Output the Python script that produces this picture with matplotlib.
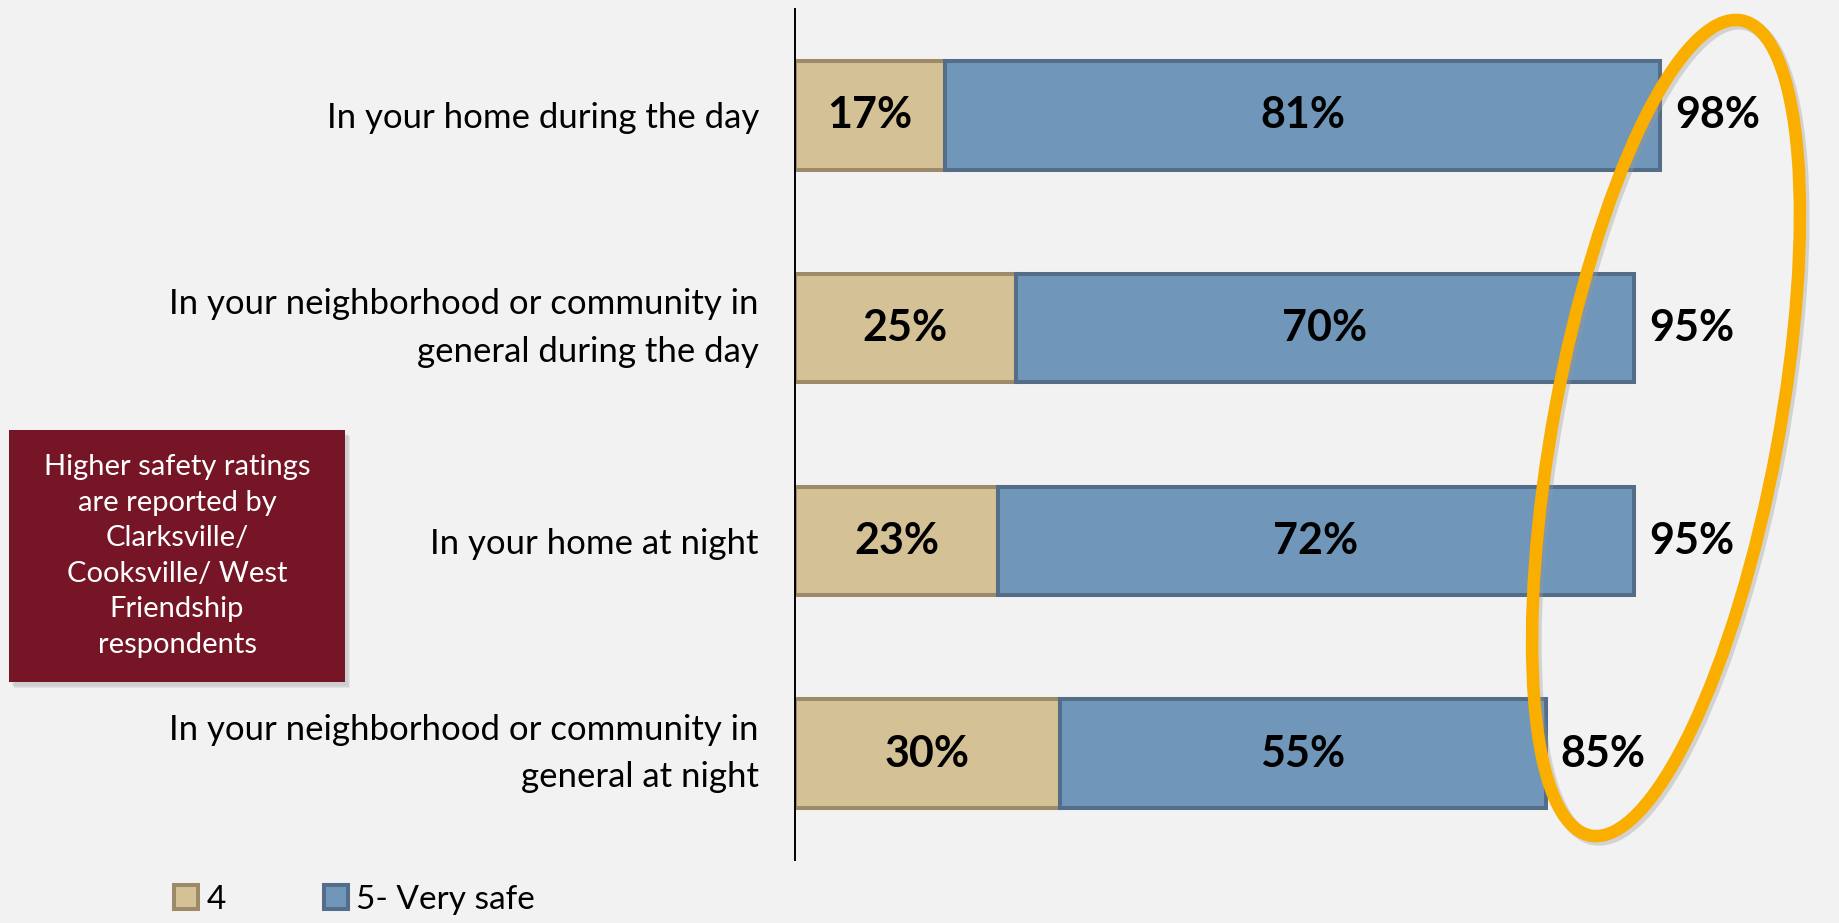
import matplotlib
matplotlib.use("Agg")
import matplotlib.pyplot as plt
import matplotlib.transforms as mtransforms
from matplotlib.patches import Ellipse, Rectangle

plt.rcParams['font.family'] = ['Lato', 'DejaVu Sans']

# ---- data ----
categories = [
    "In your home during the day",
    "In your neighborhood or community in\ngeneral during the day",
    "In your home at night",
    "In your neighborhood or community in\ngeneral at night",
]
series_names = ["4", "5- Very safe"]
values_4 = [17, 25, 23, 30]
values_5 = [81, 70, 72, 55]
totals = [98, 95, 95, 85]
callout_text = ("Higher safety ratings\nare reported by\nClarksville/\n"
                "Cooksville/ West\nFriendship\nrespondents")

# ---- style ----
BG = "#F2F2F2"
TAN, TAN_EDGE = "#D4C195", "#9C8A68"
BLUE, BLUE_EDGE = "#7097BA", "#546E8A"
ORANGE = "#F9AE00"
MAROON = "#761526"

W, H = 1839, 923
fig = plt.figure(figsize=(W / 100, H / 100), dpi=100, facecolor=BG)
ax = fig.add_axes([795 / W, (H - 860) / H, 883 / W, 851 / H])
ax.set_facecolor(BG)

y = list(range(len(categories)))
b1 = ax.barh(y, values_4, height=0.51, color=TAN, edgecolor=TAN_EDGE,
             linewidth=2.9, label=series_names[0])
b2 = ax.barh(y, values_5, left=values_4, height=0.51, color=BLUE,
             edgecolor=BLUE_EDGE, linewidth=2.9, label=series_names[1])

ax.bar_label(b1, labels=[f"{v}%" for v in values_4], label_type="center",
             fontsize=31, fontweight="bold", color="black")
ax.bar_label(b2, labels=[f"{v}%" for v in values_5], label_type="center",
             fontsize=31, fontweight="bold", color="black")
for yi, t in zip(y, totals):
    ax.annotate(f"{t}%", xy=(t, yi), xytext=(11, 0), textcoords="offset points",
                ha="left", va="center", fontsize=31, fontweight="bold", color="black")

ax.set_xlim(0, 100)
ax.set_ylim(3.5, -0.5)
ax.set_yticks(y)
ax.set_yticklabels(categories, fontsize=25, linespacing=1.6)
for lbl in ax.get_yticklabels():
    if "\n" in lbl.get_text():
        lbl.set_verticalalignment("center")
ax.tick_params(axis="y", length=0, pad=26)
ax.set_xticks([])
for s in ["top", "right", "bottom"]:
    ax.spines[s].set_visible(False)
ax.spines["left"].set_linewidth(1.4)
ax.spines["left"].set_color("black")

leg = ax.legend(loc="center left", bbox_to_anchor=(174 / W, (H - 900) / H),
                bbox_transform=fig.transFigure, ncol=2, frameon=False,
                fontsize=24, handlelength=0.72, handleheight=0.72,
                handletextpad=0.25, columnspacing=2.95, borderpad=0, borderaxespad=0)

# ---- pixel-space overlays ----
px = mtransforms.Affine2D().scale(1 / W, 1 / H) + fig.transFigure

# callout box with shadow
for i, a in enumerate([0.10, 0.10, 0.12]):
    fig.patches.append(Rectangle((9 + 3 + i, H - 682 - 4 - i), 336, 252,
                                 transform=px, facecolor="#7a7a7a", alpha=a,
                                 edgecolor="none", zorder=1))
fig.patches.append(Rectangle((9, H - 682), 336, 252, transform=px,
                             facecolor=MAROON, edgecolor="none", zorder=2))
fig.text(177 / W, (H - 556) / H, callout_text, ha="center", va="center",
         color="white", fontsize=21, linespacing=1.46, zorder=3)

# orange ellipse with soft shadow
fig.patches.append(Ellipse((1669, H - 431), 225, 829, angle=-10.5, transform=px,
                           fill=False, edgecolor="#999999", alpha=0.35,
                           linewidth=9.5, zorder=5))
fig.patches.append(Ellipse((1666, H - 428), 225, 829, angle=-10.5, transform=px,
                           fill=False, edgecolor=ORANGE, linewidth=9, zorder=6))

fig.savefig("out.png", dpi=100, facecolor=BG)
